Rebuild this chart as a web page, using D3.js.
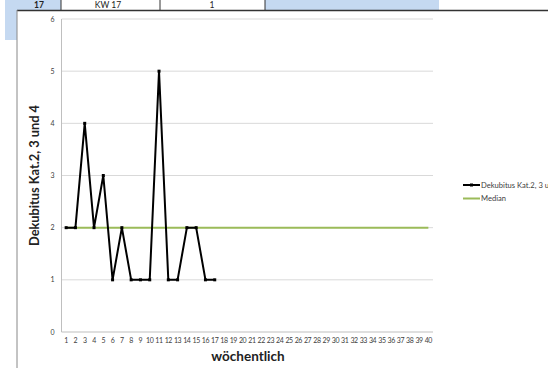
<!DOCTYPE html>
<html>
<head>
<meta charset="utf-8">
<script src="https://cdn.jsdelivr.net/npm/d3@7"></script>
<style>
  body { margin: 0; background: #fff; font-family: Lato, "Open Sans", sans-serif; }
  svg { display: block; }
</style>
</head>
<body>
<div id="chart"></div>
<script>
// weekly counts (KW 1 - 17), axis runs over 40 weeks
const weeks = d3.range(1, 41);
const cases = [2, 2, 4, 2, 3, 1, 2, 1, 1, 1, 5, 1, 1, 2, 2, 1, 1];
const medianValue = [2];
const yTicks = [0, 1, 2, 3, 4, 5, 6];
const seriesNames = ["Dekubitus Kat.2, 3 und 4", "Median"];
const rowCells = ["17", "KW 17", "1"];

const W = 548, H = 368;
const margin = {top: 19, left: 61.5};

const svg = d3.select("#chart").append("svg")
    .attr("width", W)
    .attr("height", H);

// spreadsheet row peeking above the chart
svg.append("rect").attr("x", 5).attr("y", 0).attr("width", 12).attr("height", 40).attr("fill", "#c5d9f1");
svg.append("rect").attr("x", 17).attr("y", 0).attr("width", 44).attr("height", 10).attr("fill", "#c5d9f1");
svg.append("rect").attr("x", 265).attr("y", 0).attr("width", 174).attr("height", 10).attr("fill", "#c5d9f1");
[61, 160, 265].forEach(x => {
    svg.append("line").attr("x1", x).attr("x2", x).attr("y1", 0).attr("y2", 10)
        .attr("stroke", "#333").attr("stroke-width", 1);
});
const cellCenters = [39, 108, 212];
rowCells.forEach((t, i) => {
    svg.append("text")
        .attr("x", cellCenters[i]).attr("y", 8)
        .attr("text-anchor", "middle")
        .attr("font-size", 8.5)
        .attr("font-weight", i === 0 ? "bold" : "normal")
        .attr("fill", "#222")
        .text(t);
});

// chart area
svg.append("line").attr("x1", 17).attr("x2", W).attr("y1", 10.5).attr("y2", 10.5)
    .attr("stroke", "#333").attr("stroke-width", 1.5);
svg.append("line").attr("x1", 17).attr("x2", 17).attr("y1", 10).attr("y2", H)
    .attr("stroke", "#888").attr("stroke-width", 1);

const g = svg.append("g")
    .attr("transform", `translate(${margin.left},${margin.top})`);

const x = d3.scaleBand()
    .domain(weeks)
    .range([0, 371.5]);

const y = d3.scaleLinear()
    .domain([0, 6])
    .range([313, 0]);

const cx = d => x(d) + x.bandwidth() / 2;

// gridlines
g.selectAll(".grid")
    .data(yTicks)
    .enter()
    .append("line")
    .attr("class", "grid")
    .attr("x1", 0)
    .attr("x2", x.range()[1])
    .attr("y1", d => y(d))
    .attr("y2", d => y(d))
    .attr("stroke", d => d === 0 ? "#bfbfbf" : "#d9d9d9")
    .attr("stroke-width", 1);

// y axis line
g.append("line")
    .attr("x1", 0).attr("x2", 0)
    .attr("y1", y(6)).attr("y2", y(0))
    .attr("stroke", "#bfbfbf");

// y tick labels
g.selectAll(".ylab")
    .data(yTicks)
    .enter()
    .append("text")
    .attr("class", "ylab")
    .attr("x", -7)
    .attr("y", d => y(d) + 2.5)
    .attr("text-anchor", "end")
    .attr("font-size", 7)
    .attr("fill", "#404040")
    .text(d => d);

// x tick labels
g.selectAll(".xlab")
    .data(weeks)
    .enter()
    .append("text")
    .attr("class", "xlab")
    .attr("x", d => cx(d))
    .attr("y", y(0) + 11)
    .attr("text-anchor", "middle")
    .attr("font-size", 7)
    .attr("letter-spacing", -0.4)
    .attr("fill", "#404040")
    .text(d => d);

// median line
g.append("line")
    .attr("x1", cx(weeks[0]))
    .attr("x2", cx(weeks[weeks.length - 1]))
    .attr("y1", y(medianValue[0]))
    .attr("y2", y(medianValue[0]))
    .attr("stroke", "#9bbb59")
    .attr("stroke-width", 2);

// series
const line = d3.line()
    .x((d, i) => cx(weeks[i]))
    .y(d => y(d));

g.append("path")
    .datum(cases)
    .attr("d", line)
    .attr("fill", "none")
    .attr("stroke", "#000")
    .attr("stroke-width", 2);

g.selectAll(".pt")
    .data(cases)
    .enter()
    .append("rect")
    .attr("class", "pt")
    .attr("x", (d, i) => cx(weeks[i]) - 1.5)
    .attr("y", d => y(d) - 1.5)
    .attr("width", 3)
    .attr("height", 3)
    .attr("fill", "#000");

// axis titles
svg.append("text")
    .attr("transform", `translate(39,${margin.top + y(3)}) rotate(-90)`)
    .attr("text-anchor", "middle")
    .attr("font-size", 12.8)
    .attr("font-weight", "bold")
    .attr("fill", "#222")
    .text(seriesNames[0]);

svg.append("text")
    .attr("x", 248)
    .attr("y", 361)
    .attr("text-anchor", "middle")
    .attr("font-size", 13.5)
    .attr("font-weight", "bold")
    .attr("fill", "#222")
    .text("wöchentlich");

// legend
const leg = svg.append("g").attr("transform", "translate(463,185)");
leg.append("line").attr("x1", 0).attr("x2", 17).attr("y1", 0).attr("y2", 0)
    .attr("stroke", "#000").attr("stroke-width", 2);
leg.append("rect").attr("x", 7).attr("y", -1.5).attr("width", 3).attr("height", 3).attr("fill", "#000");
leg.append("text").attr("x", 18).attr("y", 2.5).attr("font-size", 7.6).attr("fill", "#404040")
    .text(seriesNames[0]);
leg.append("line").attr("x1", 0).attr("x2", 17).attr("y1", 13.5).attr("y2", 13.5)
    .attr("stroke", "#9bbb59").attr("stroke-width", 2);
leg.append("text").attr("x", 18).attr("y", 16).attr("font-size", 7.6).attr("fill", "#404040")
    .text(seriesNames[1]);
</script>
</body>
</html>
